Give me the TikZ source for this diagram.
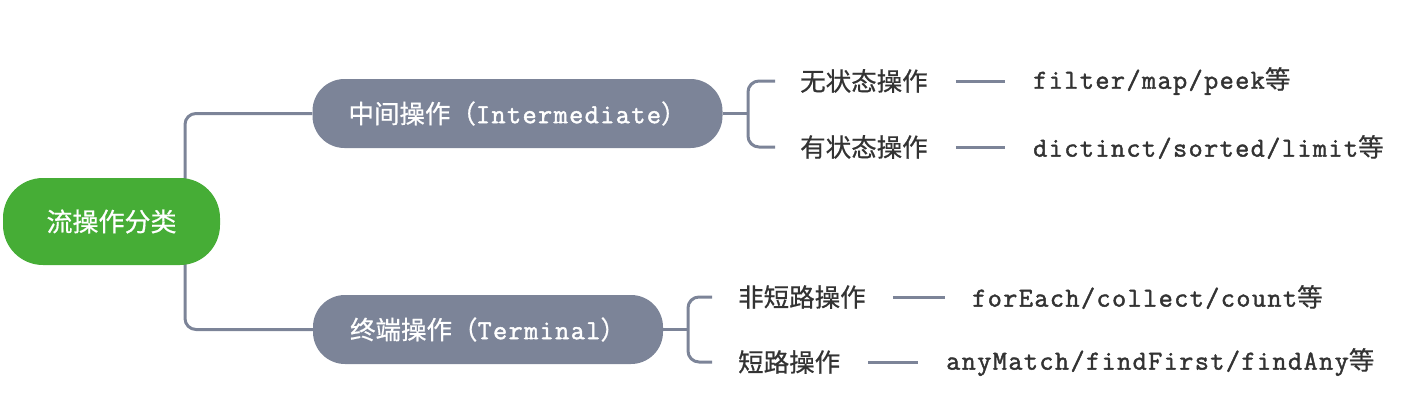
\documentclass[tikz,border=0pt]{standalone}
\usepackage{fontspec}
\setmainfont{Noto Sans CJK SC}[FakeBold=0.6]
\newfontfamily\monof{Latin Modern Mono}[LetterSpace=5,FakeBold=1.6]
\usetikzlibrary{backgrounds,calc}
\definecolor{nodegray}{HTML}{7C8498}
\definecolor{rootgreen}{HTML}{46AD36}
\definecolor{txt}{HTML}{333333}
\tikzset{
  conn/.style={draw=nodegray, line width=3pt, rounded corners=11pt},
  dashline/.style={draw=nodegray, line width=3pt},
  rootbox/.style={fill=rootgreen, rounded corners=40pt, minimum width=217pt, minimum height=87pt, text=white, font=\fontsize{26}{30}\selectfont, inner sep=0pt},
  graybox/.style={fill=nodegray, rounded corners=32pt, minimum height=69pt, text=white, font=\fontsize{25.5}{30}\selectfont, inner sep=0pt},
  leaf/.style={anchor=west, inner sep=0pt, text=txt, font=\fontsize{25.5}{30}\selectfont},
  codetxt/.style={anchor=west, inner sep=0pt, text=txt, font=\fontsize{27.5}{30}\selectfont},
  monosz/.style={},
}
\newcommand{\mcode}[1]{{\fontsize{27.5}{30}\monof #1}}
\begin{document}
\begin{tikzpicture}[x=1pt,y=-1pt]
\useasboundingbox (0,0) rectangle (1414,418);
\node[rootbox] (root) at (111.5,221.5) {流操作分类};
\node[graybox, minimum width=410pt] (inter) at (517.5,113.5) {中间操作（\mcode{Intermediate}）};
\node[graybox, minimum width=350pt] (term) at (488,329.5) {终端操作（\mcode{Terminal}）};
% top leaves
\node[leaf] (s1) at (800,81) {无状态操作};
\node[codetxt] (c1) at (1033,81) {\mcode{filter/map/peek}{\fontsize{25.5}{30}\selectfont 等}};
\node[leaf] (s2) at (800,147) {有状态操作};
\node[codetxt] (c2) at (1033,147) {\mcode{dictinct/sorted/limit}{\fontsize{25.5}{30}\selectfont 等}};
% bottom leaves
\node[leaf] (s3) at (738,297) {非短路操作};
\node[codetxt] (c3) at (972,297) {\mcode{forEach/collect/count}{\fontsize{25.5}{30}\selectfont 等}};
\node[leaf] (s4) at (738,362) {短路操作};
\node[codetxt] (c4) at (946,362) {\mcode{anyMatch/findFirst/findAny}{\fontsize{25.5}{30}\selectfont 等}};
\coordinate (trunk) at (185,221.5);
\coordinate (b1) at (748,113.5);
\coordinate (b2) at (688,329.5);
\begin{scope}[on background layer]
\draw[conn] (inter.west) -| (trunk) |- (term.west);
\draw[dashline] (inter.east) -- (b1);
\draw[conn] ([xshift=-25pt]s1.west) -| (b1) |- ([xshift=-25pt]s2.west);
\draw[dashline] (term.east) -- (b2);
\draw[conn] ([xshift=-26pt]s3.west) -| (b2) |- ([xshift=-26pt]s4.west);
\end{scope}
\draw[dashline] ([xshift=28pt]s1.east) -- ([xshift=-28pt]c1.west);
\draw[dashline] ([xshift=28pt]s2.east) -- ([xshift=-28pt]c2.west);
\draw[dashline] ([xshift=27pt]s3.east) -- ([xshift=-27pt]c3.west);
\draw[dashline] ([xshift=28pt]s4.east) -- ([xshift=-28pt]c4.west);
\end{tikzpicture}
\end{document}
